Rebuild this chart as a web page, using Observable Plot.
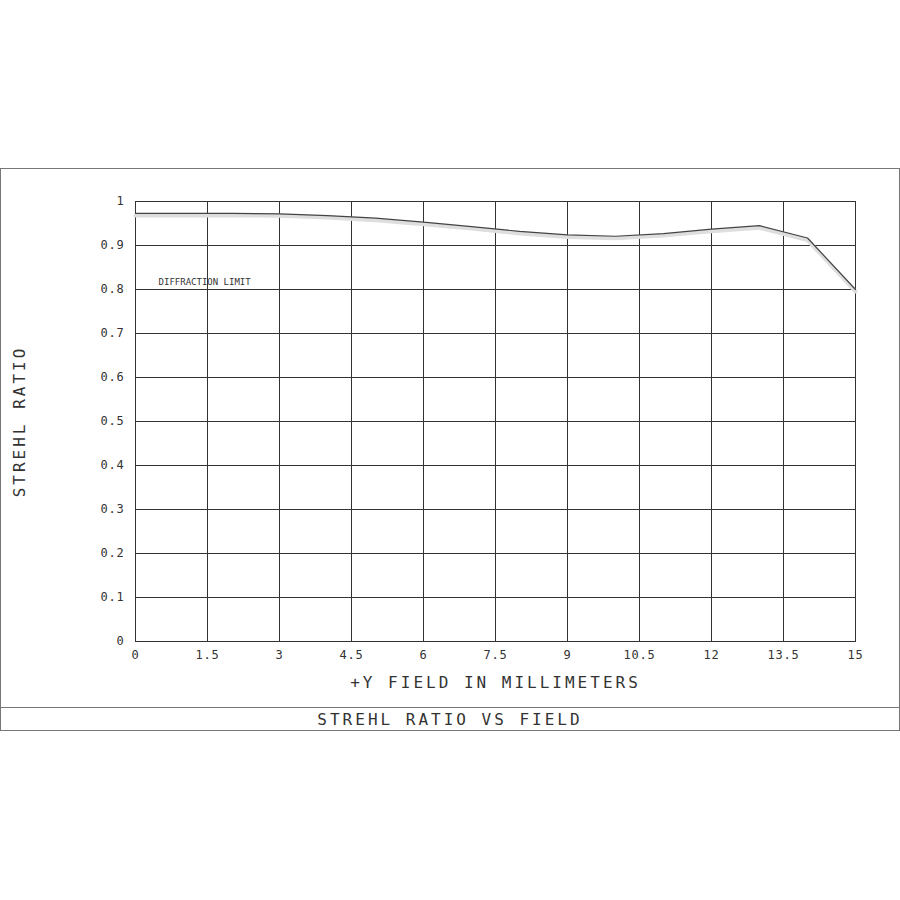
<!DOCTYPE html>
<html><head><meta charset="utf-8">
<script src="https://cdn.jsdelivr.net/npm/d3@7"></script>
<script src="https://cdn.jsdelivr.net/npm/@observablehq/plot@0.6"></script>
<style>
body{margin:0;background:#fff;width:900px;height:900px;position:relative;font-family:"DejaVu Sans Mono",monospace;}
#box{position:absolute;left:0;top:168px;width:900px;box-sizing:border-box;border:1px solid #777;}
#chart svg{display:block;}
#title{border-top:1px solid #777;height:22px;line-height:23px;text-align:center;font-size:16px;letter-spacing:3px;color:#333;font-family:"DejaVu Sans Mono",monospace;}
g[aria-label="y-axis label"] text, g[aria-label="x-axis label"] text{font-size:16px;letter-spacing:3px;fill:#333;}
g[aria-label="y-axis tick label"] text, g[aria-label="x-axis tick label"] text{letter-spacing:0.8px;}
</style></head><body>
<div id="box"><div id="chart"></div><div id="title">STREHL RATIO VS FIELD</div></div>
<script>
const fieldMm = [0,1,2,3,4,5,6,7,8,9,10,11,12,13,14,15];
const strehl = [0.973,0.973,0.973,0.972,0.968,0.962,0.953,0.943,0.932,0.924,0.921,0.927,0.937,0.945,0.917,0.800];
const xTicks = [0,1.5,3,4.5,6,7.5,9,10.5,12,13.5,15];
const xTickLabels = ["0","1.5","3","4.5","6","7.5","9","10.5","12","13.5","15"];
const yTicks = [0,0.1,0.2,0.3,0.4,0.5,0.6,0.7,0.8,0.9,1];
const yTickLabels = ["0","0.1","0.2","0.3","0.4","0.5","0.6","0.7","0.8","0.9","1"];
const noteText = ["DIFFRACTION LIMIT"];
const noteX = [0.48];
const noteY = [0.816];

const curve = fieldMm.map((x, i) => ({x, y: strehl[i]}));
const notes = noteText.map((t, i) => ({t, x: noteX[i], y: noteY[i]}));

const chart = Plot.plot({
  width: 898,
  height: 538,
  marginLeft: 134,
  marginRight: 44,
  marginTop: 32,
  marginBottom: 66,
  style: {fontFamily: "DejaVu Sans Mono, monospace", color: "#333", background: "#fff"},
  x: {domain: [0, 15]},
  y: {domain: [0, 1]},
  marks: [
    Plot.ruleX(xTicks, {stroke: "#333", strokeWidth: 1}),
    Plot.ruleY(yTicks, {stroke: "#333", strokeWidth: 1}),
    Plot.frame({stroke: "#333"}),
    Plot.line(curve, {x: "x", y: "y", stroke: "#dedede", strokeWidth: 4, dy: 2}),
    Plot.line(curve, {x: "x", y: "y", stroke: "#444", strokeWidth: 1.2}),
    Plot.text(notes, {x: "x", y: "y", text: "t", textAnchor: "start", fontSize: 9, fill: "#333", style: "letter-spacing:1px"}),
    Plot.axisX({ticks: xTicks, tickFormat: (d) => xTickLabels[xTicks.indexOf(d)], tickSize: 0, tickPadding: 9, fontSize: 12, label: "+Y FIELD IN MILLIMETERS", labelArrow: "none", labelAnchor: "center", labelOffset: 46}),
    Plot.axisY({ticks: yTicks, tickFormat: (d) => yTickLabels[yTicks.indexOf(d)], tickSize: 0, tickPadding: 11, fontSize: 12, label: "STREHL RATIO", labelArrow: "none", labelAnchor: "center", labelOffset: 122})
  ]
});
document.getElementById("chart").appendChild(chart);
</script>
</body></html>
